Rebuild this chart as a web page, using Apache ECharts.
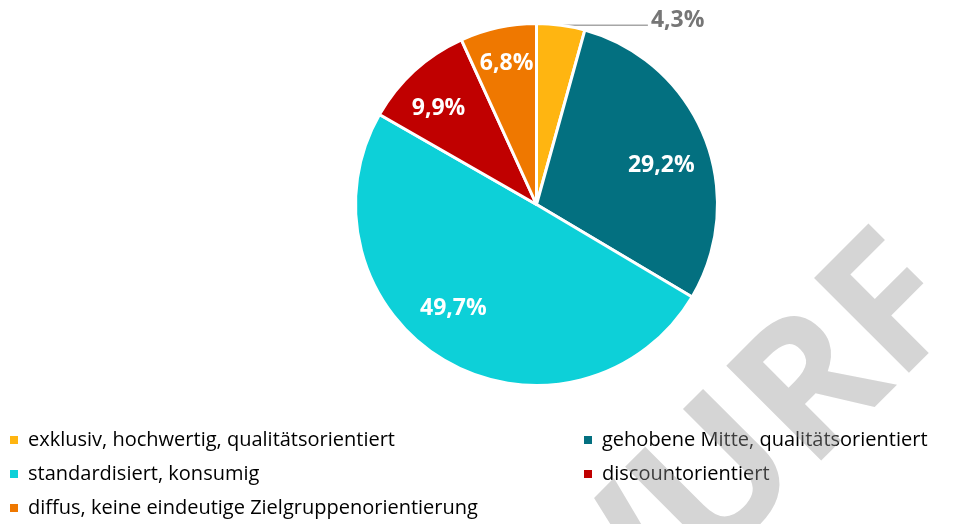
<!DOCTYPE html>
<html lang="de">
<head>
<meta charset="utf-8">
<title>Zielgruppenorientierung</title>
<script src="https://cdn.jsdelivr.net/npm/echarts@6/dist/echarts.min.js"></script>
<style>
  html, body { margin: 0; padding: 0; background: #ffffff; }
  #chart { width: 973px; height: 524px; }
</style>
</head>
<body>
<div id="chart"></div>
<script>
// Segments, clockwise from 12 o'clock
const categories = [
  'exklusiv, hochwertig, qualitätsorientiert',
  'gehobene Mitte, qualitätsorientiert',
  'standardisiert, konsumig',
  'discountorientiert',
  'diffus, keine eindeutige Zielgruppenorientierung'
];
const shares = [4.3, 29.2, 49.7, 9.9, 6.8];

// Styling
const colors = ['#FFB511', '#037080', '#0DD0D8', '#C00000', '#EF7800'];
const labelShift = [[0, -5], [38, -4], [-36, 23], [-35, -27], [-10, -50]];
const FONT = '"Open Sans", "Noto Sans", sans-serif';

const fmt = v => v.toFixed(1).replace('.', ',') + '%';

const chart = echarts.init(document.getElementById('chart'), null, { renderer: 'canvas' });

const pieData = categories.map((name, i) => {
  const item = {
    name: name,
    value: shares[i],
    itemStyle: { color: colors[i] }
  };
  if (i === 0) {
    item.label = {
      position: 'outside',
      color: '#767676',
      distanceToLabelLine: 3
    };
    item.labelLine = {
      show: true,
      length: 0.01,
      length2: 87,
      smooth: false,
      lineStyle: { color: '#A6A6A6', width: 1.5 }
    };
  } else {
    item.labelLine = { show: false };
  }
  return item;
});

const legendBase = {
  orient: 'vertical',
  top: 428,
  padding: 0,
  itemWidth: 10,
  itemHeight: 10,
  itemGap: 10,
  icon: 'rect',
  selectedMode: false,
  textStyle: { fontFamily: FONT, fontSize: 20, color: '#000000', lineHeight: 24, padding: [0, 0, 0, 4] }
};

chart.setOption({
  animation: false,
  backgroundColor: '#ffffff',
  legend: [
    Object.assign({}, legendBase, { left: 8, data: [categories[0], categories[2], categories[4]] }),
    Object.assign({}, legendBase, { left: 582, data: [categories[1], categories[3]] })
  ],
  series: [
    {
      type: 'pie',
      center: [536.5, 204.5],
      radius: 181,
      startAngle: 90,
      clockwise: true,
      avoidLabelOverlap: false,
      silent: true,
      itemStyle: { borderColor: '#ffffff', borderWidth: 3 },
      label: {
        show: true,
        position: 'inside',
        color: '#ffffff',
        fontFamily: FONT,
        fontWeight: 'bold',
        fontSize: 23,
        formatter: p => fmt(p.value)
      },
      labelLayout: p => {
        const s = labelShift[p.dataIndex];
        return { dx: s[0], dy: s[1] };
      },
      emphasis: { disabled: true },
      data: pieData
    }
  ],
  graphic: [
    {
      type: 'text',
      x: 932,
      y: 274,
      rotation: Math.PI / 4,
      z: 100,
      silent: true,
      style: {
        text: 'ENTWURF',
        font: 'bold 188px "Open Sans", "Noto Sans", sans-serif',
        fill: 'rgba(150,150,150,0.4)',
        textAlign: 'right',
        textVerticalAlign: 'middle',
        align: 'right',
        verticalAlign: 'middle'
      }
    }
  ]
});
</script>
</body>
</html>
